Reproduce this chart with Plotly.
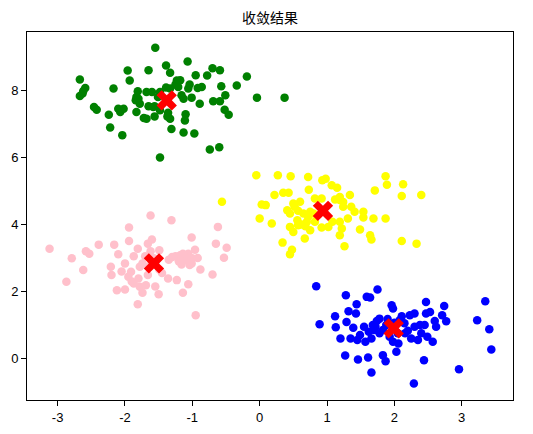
import plotly.graph_objects as go

# ---- cluster points
green_x = [-1.55, -1.07, -1.39, -0.70, -0.59, -1.65, -1.96, -1.33, -0.95, -0.78, -0.19, -2.67, -1.93,
           -1.23, -1.25, -1.04, -0.34, -0.57, -2.17, -2.59, -1.06, -0.92, -2.62, -1.39, -1.81, -1.68,
           -1.60, -2.63, -2.67, -0.51, -1.16, -1.01, -1.83, -1.51, -1.13, -0.04, 0.37, -1.84, -0.69,
           -0.59, -0.89, -1.65, -1.56, -2.46, -2.42, -2.10, -2.02, -2.07, -1.83, -1.48, -0.52, -1.10,
           -0.46, -2.24, -1.56, -1.37, -1.72, -1.11, -2.22, -1.31, -1.13, -0.97, -2.04, -0.74, -0.60,
           -1.48, -1.78, -1.58, -1.68, -1.33, -1.36, -1.18, -1.21, -1.33, -0.86, -1.48, -1.80]
green_y = [9.28, 8.87, 8.75, 8.67, 8.61, 8.61, 8.60, 8.53, 8.46, 8.45, 8.42, 8.33, 8.30,
           8.30, 8.18, 8.18, 8.15, 8.13, 8.06, 8.08, 8.06, 8.08, 7.99, 8.09, 7.98, 7.96,
           7.96, 7.91, 7.84, 7.86, 7.86, 7.79, 7.81, 7.81, 7.76, 7.79, 7.79, 7.71, 7.68,
           7.68, 7.61, 7.53, 7.53, 7.51, 7.43, 7.46, 7.46, 7.36, 7.36, 7.41, 7.43, 7.29,
           7.28, 7.28, 7.23, 7.23, 7.18, 7.11, 6.90, 6.85, 6.75, 6.72, 6.67, 6.24, 6.31,
           6.00, 7.61, 7.51, 7.16, 7.16, 7.34, 8.31, 8.11, 8.06, 8.11, 7.96, 7.76]

yellow_x = [-0.05, 0.27, 0.46, 0.72, 0.93, 0.98, 1.87, 1.89, 2.13, 1.07, 1.15, 0.73, 1.71, 1.34,
            0.22, 0.35, 0.43, 2.11, 2.40, 1.12, 0.82, 1.19, -0.56, 0.03, 0.09, 0.50, 0.60, 1.24,
            1.36, 0.41, 0.57, 1.41, 0.45, 0.75, 0.00, 1.31, 1.54, 1.69, 1.87, 0.56, 0.70, 1.08,
            0.18, 0.45, 0.75, 0.92, 1.22, 1.49, 0.50, 0.67, 1.19, 1.64, 1.66, 2.11, 2.33, 0.34,
            1.26, 0.48, 0.45, 0.52, 0.65, 0.72, 0.80, 0.82, 0.57, 0.92, 1.19, 1.24, 1.54, 1.02,
            1.19, 0.62, 0.68]
yellow_y = [5.47, 5.47, 5.44, 5.42, 5.32, 5.37, 5.44, 5.19, 5.20, 5.17, 5.10, 5.04, 5.02, 4.88,
            4.88, 4.95, 4.95, 4.85, 4.88, 4.75, 4.78, 4.73, 4.68, 4.60, 4.58, 4.63, 4.68, 4.53,
            4.53, 4.43, 4.41, 4.38, 4.33, 4.38, 4.18, 4.18, 4.21, 4.18, 4.18, 4.13, 4.08, 4.08,
            4.03, 3.93, 3.83, 3.91, 3.88, 3.85, 3.78, 3.58, 3.68, 3.68, 3.55, 3.51, 3.43, 3.46,
            3.35, 3.25, 3.11, 4.53, 4.33, 4.23, 4.33, 4.08, 3.98, 4.78, 4.82, 4.67, 4.38, 3.93,
            4.08, 4.00, 3.95]

pink_x = [-3.12, -2.87, -2.79, -2.62, -2.58, -2.53, -2.39, -2.21, -2.20, -2.16, -2.10, -2.12, -2.00,
          -2.00, -1.94, -1.94, -1.95, -1.91, -1.87, -1.87, -1.81, -1.81, -1.78, -1.78, -1.74, -1.69,
          -1.66, -1.62, -1.66, -1.60, -1.49, -1.50, -1.49, -1.36, -1.31, -1.30, -1.23, -1.18, -1.14,
          -1.06, -1.16, -1.01, -0.96, -1.01, -0.95, -0.88, -0.70, -0.65, -0.62, -0.53, -0.49, -1.11,
          -1.06, -1.00, -1.09, -1.04, -1.14, -1.74, -1.57, -1.70, -1.80, -1.65, -1.90, -1.45, -1.35,
          -1.25, -0.92, -1.55, -2.05, -1.62, -1.20]
pink_y = [3.28, 2.29, 2.99, 2.64, 3.20, 3.13, 3.40, 2.74, 2.49, 3.40, 3.11, 2.04, 2.06,
          2.84, 3.91, 3.51, 2.44, 2.59, 3.05, 2.24, 3.28, 1.62, 2.74, 2.14, 1.96, 2.19,
          2.49, 4.27, 3.43, 3.55, 3.23, 1.92, 2.66, 2.39, 4.13, 3.03, 2.34, 3.08, 1.96,
          2.22, 2.81, 3.61, 3.25, 2.84, 1.29, 2.66, 2.51, 3.43, 3.93, 3.01, 3.31, 3.03,
          3.13, 2.99, 2.94, 2.79, 3.13, 2.84, 2.99, 3.05, 2.39, 2.75, 2.30, 2.55, 2.95,
          3.05, 3.00, 2.15, 2.60, 3.20, 2.90]

blue_x = [0.84, 0.89, 1.12, 1.13, 1.20, 1.27, 1.28, 1.29, 1.32, 1.35, 1.39, 1.43, 1.44, 1.46,
          1.49, 1.57, 1.59, 1.64, 1.61, 1.66, 1.66, 1.70, 1.75, 1.74, 1.78, 1.83, 1.87, 1.78,
          1.96, 1.98, 1.98, 2.03, 2.06, 2.11, 2.16, 2.20, 2.23, 2.30, 2.29, 2.35, 2.38, 2.40,
          2.44, 2.47, 2.47, 2.53, 2.49, 2.57, 2.60, 2.62, 2.71, 2.74, 2.77, 2.96, 3.23, 3.35,
          3.41, 3.44, 1.68, 1.88, 2.00, 2.08, 2.05, 1.93, 1.72, 1.83, 1.62, 2.15, 2.25, 1.55,
          2.30, 1.90, 2.45, 1.45]
blue_y = [2.16, 1.02, 1.26, 0.93, 0.60, 0.09, 1.89, 1.09, 1.41, 0.60, 0.92, 1.34, 1.62, -0.03,
          0.70, 0.50, 1.84, 1.82, 0.03, -0.42, 0.60, 0.85, 2.06, 1.12, 1.19, 0.10, -0.08, 0.75,
          1.59, 1.49, 0.50, 0.20, 0.45, 1.26, 0.75, 0.83, 1.29, 1.34, -0.75, 0.55, 1.00, 0.75,
          -0.05, 1.69, 1.34, 1.39, 0.65, 0.50, 1.12, 0.95, 1.29, 1.57, 1.11, -0.32, 1.14, 1.71,
          0.87, 0.27, 1.00, 1.00, 1.07, 1.14, 0.75, 0.65, 0.95, 0.85, 0.80, 1.05, 0.60, 0.95,
          0.95, 1.18, 1.00, 0.55]

center_x = [-1.38, 0.94, -1.57, 1.99]
center_y = [7.71, 4.41, 2.84, 0.90]

tick_x = [-3, -2, -1, 0, 1, 2, 3]
tick_x_text = ["-3", "-2", "-1", "0", "1", "2", "3"]
tick_y = [0, 2, 4, 6, 8]
tick_y_text = ["0", "2", "4", "6", "8"]

clusters = [
    (green_x, green_y, "green"),
    (yellow_x, yellow_y, "yellow"),
    (pink_x, pink_y, "pink"),
    (blue_x, blue_y, "blue"),
]

fig = go.Figure()
for xs, ys, c in clusters:
    fig.add_trace(go.Scatter(
        x=xs, y=ys, mode="markers",
        marker=dict(color=c, size=8.5, line=dict(width=0)),
        showlegend=False, hoverinfo="skip"
    ))
# centroids
fig.add_trace(go.Scatter(
    x=center_x, y=center_y, mode="markers",
    marker=dict(color="red", symbol="x", size=18, line=dict(width=0)),
    showlegend=False
))

axis_style = dict(
    showgrid=False, zeroline=False, showline=True, mirror=True, automargin=False,
    linecolor="black", linewidth=1, ticks="outside", ticklen=5,
    tickcolor="black", tickfont=dict(family="Liberation Sans, Arial", size=13, color="black"),
)
# page body has an 8px margin, so the figure is shrunk to keep the frame where it belongs
fig.update_layout(
    width=525, height=426,
    margin=dict(l=19, r=20, t=24, b=34),
    paper_bgcolor="white", plot_bgcolor="white",
    title=dict(text="收敛结果", x=0.499, xanchor="center", y=0.976, yanchor="middle",
               font=dict(family="Noto Sans CJK SC", size=14, color="black")),
    xaxis=dict(range=[-3.455, 3.762], tickvals=tick_x, ticktext=tick_x_text, **axis_style),
    yaxis=dict(range=[-1.24, 9.75], tickvals=tick_y, ticktext=tick_y_text, **axis_style),
)
fig.write_html("out.html")
